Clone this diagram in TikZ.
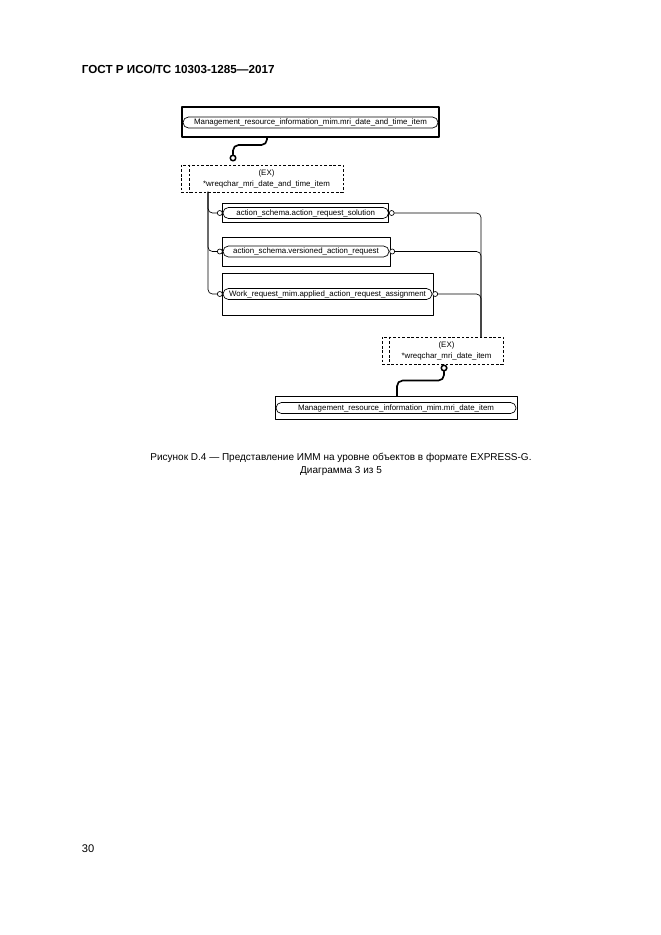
\documentclass[tikz,border=0pt]{standalone}
\usepackage{fontspec}
\setmainfont{Liberation Sans}
\usetikzlibrary{positioning}

\begin{document}
\begin{tikzpicture}[
  x=0.9pt,
  y=-0.9pt,
  line cap=round,
  line join=round,
  entity/.style={draw=black,line width=0.6pt,inner sep=0pt},
  ename/.style={draw=black,line width=0.6pt,rounded corners=4.9pt,
    inner sep=0pt,minimum height=9.9pt,font=\fontsize{7.1}{9}\selectfont},
  exbox/.style={draw=black,line width=0.7pt,dash pattern=on 2.4pt off 1.7pt,
    line cap=butt,inner sep=0pt,minimum height=24.3pt},
  exline/.style={draw=black,line width=0.7pt,dash pattern=on 2.4pt off 1.7pt,
    line cap=butt},
  extext/.style={align=center,inner sep=0pt,
    font=\fontsize{7.1}{9.9}\selectfont},
  ringend/.style={circle,draw=black,fill=white,line width=0.6pt,
    inner sep=0pt,minimum size=4.5pt},
  bigring/.style={circle,draw=black,fill=white,line width=1.4pt,
    inner sep=0pt,minimum size=5pt},
  rel/.style={draw=black,line width=0.6pt,rounded corners=4pt},
  thickrel/.style={draw=black,line width=1.5pt,rounded corners=5pt},
  caption/.style={align=center,font=\fontsize{9}{11.7}\selectfont}
]
  \useasboundingbox (0,0) rectangle (661,935);

  % Page head.
  \node[anchor=base west,font=\fontsize{10.5}{12}\selectfont\bfseries]
    (hdr) at (78,73) {ГОСТ Р ИСО/ТС 10303-1285—2017};

  % Upper entity and its extension.
  \node[entity,line width=1pt,minimum width=231.3pt,minimum height=27pt]
    (etop) at (310.5,122) {};
  \node[ename,minimum width=229.5pt] (stop) at (310.5,122.5)
    {Management\_resource\_information\_mim.mri\_date\_and\_time\_item};
  \node[exbox,minimum width=145.8pt] (x1) at (262,178.5) {};
  \draw[exline] ([xshift=8.1pt]x1.north west) -- ([xshift=8.1pt]x1.south west);
  \node[extext] (x1t) at (266.5,178.5)
    {(EX)\\*wreqchar\_mri\_date\_and\_time\_item};
  \node[bigring] (r1) at (233,158) {};
  \coordinate (tout) at (267,137);
  \draw[thickrel] (tout) -- ++(0,8) -| (r1.north);

  % The three subtypes.
  \node[entity,minimum width=149.4pt,minimum height=17.1pt]
    (ea) at (305,212.5) {};
  \node[ename,minimum width=149pt] (sa) at (305.75,213)
    {action\_schema.action\_request\_solution};
  \node[entity,minimum width=151.2pt,minimum height=26.1pt]
    (eb) at (306,251.5) {};
  \node[ename,minimum width=149.4pt] (sb) at (306,251.5)
    {action\_schema.versioned\_action\_request};
  \node[entity,minimum width=189.9pt,minimum height=37.8pt]
    (ec) at (327.5,294) {};
  \node[ename,minimum width=188.1pt] (sc) at (327.5,294)
    {Work\_request\_mim.applied\_action\_request\_assignment};

  \node[ringend,left=0pt of sa] (ina) {};
  \node[ringend,left=0pt of sb] (inb) {};
  \node[ringend,left=0pt of sc] (inc) {};
  \node[ringend,right=0pt of sa] (outa) {};
  \node[ringend,right=0pt of sb] (outb) {};
  \node[ringend,right=0pt of sc] (outc) {};

  \coordinate (lbus) at (208,192);
  \draw[rel] (lbus) |- (ina.west);
  \draw[rel] (lbus) |- (inb.west);
  \draw[rel] (lbus) |- (inc.west);

  % Lower extension and entity.
  \node[exbox,minimum width=108.9pt] (x2) at (442.5,350.5) {};
  \draw[exline] ([xshift=7.2pt]x2.north west) -- ([xshift=7.2pt]x2.south west);
  \node[extext] (x2t) at (446.5,350.5)
    {(EX)\\*wreqchar\_mri\_date\_item};

  \coordinate (rbus) at (481,337);
  \draw[rel] (outa.east) -| (rbus);
  \draw[rel] (outb.east) -| (rbus);
  \draw[rel] (outc.east) -| (rbus);

  \node[entity,minimum width=217.8pt,minimum height=20.7pt]
    (ebot) at (396,407.5) {};
  \node[ename,minimum width=216pt] (sbot) at (396,408)
    {Management\_resource\_information\_mim.mri\_date\_item};
  \node[bigring] (r2) at (444,368) {};
  \coordinate (bin) at (397,396);
  \draw[thickrel] (r2.south) -- ++(0,9) -| (bin);

  % Caption and page number.
  \node[caption] (cap) at (341,464.5)
    {Рисунок D.4 — Представление ИММ на уровне объектов в формате EXPRESS-G.\\
     Диаграмма 3 из 5};
  \node[anchor=base west,font=\fontsize{10}{12}\selectfont]
    (pg) at (78,852) {30};
\end{tikzpicture}
\end{document}
